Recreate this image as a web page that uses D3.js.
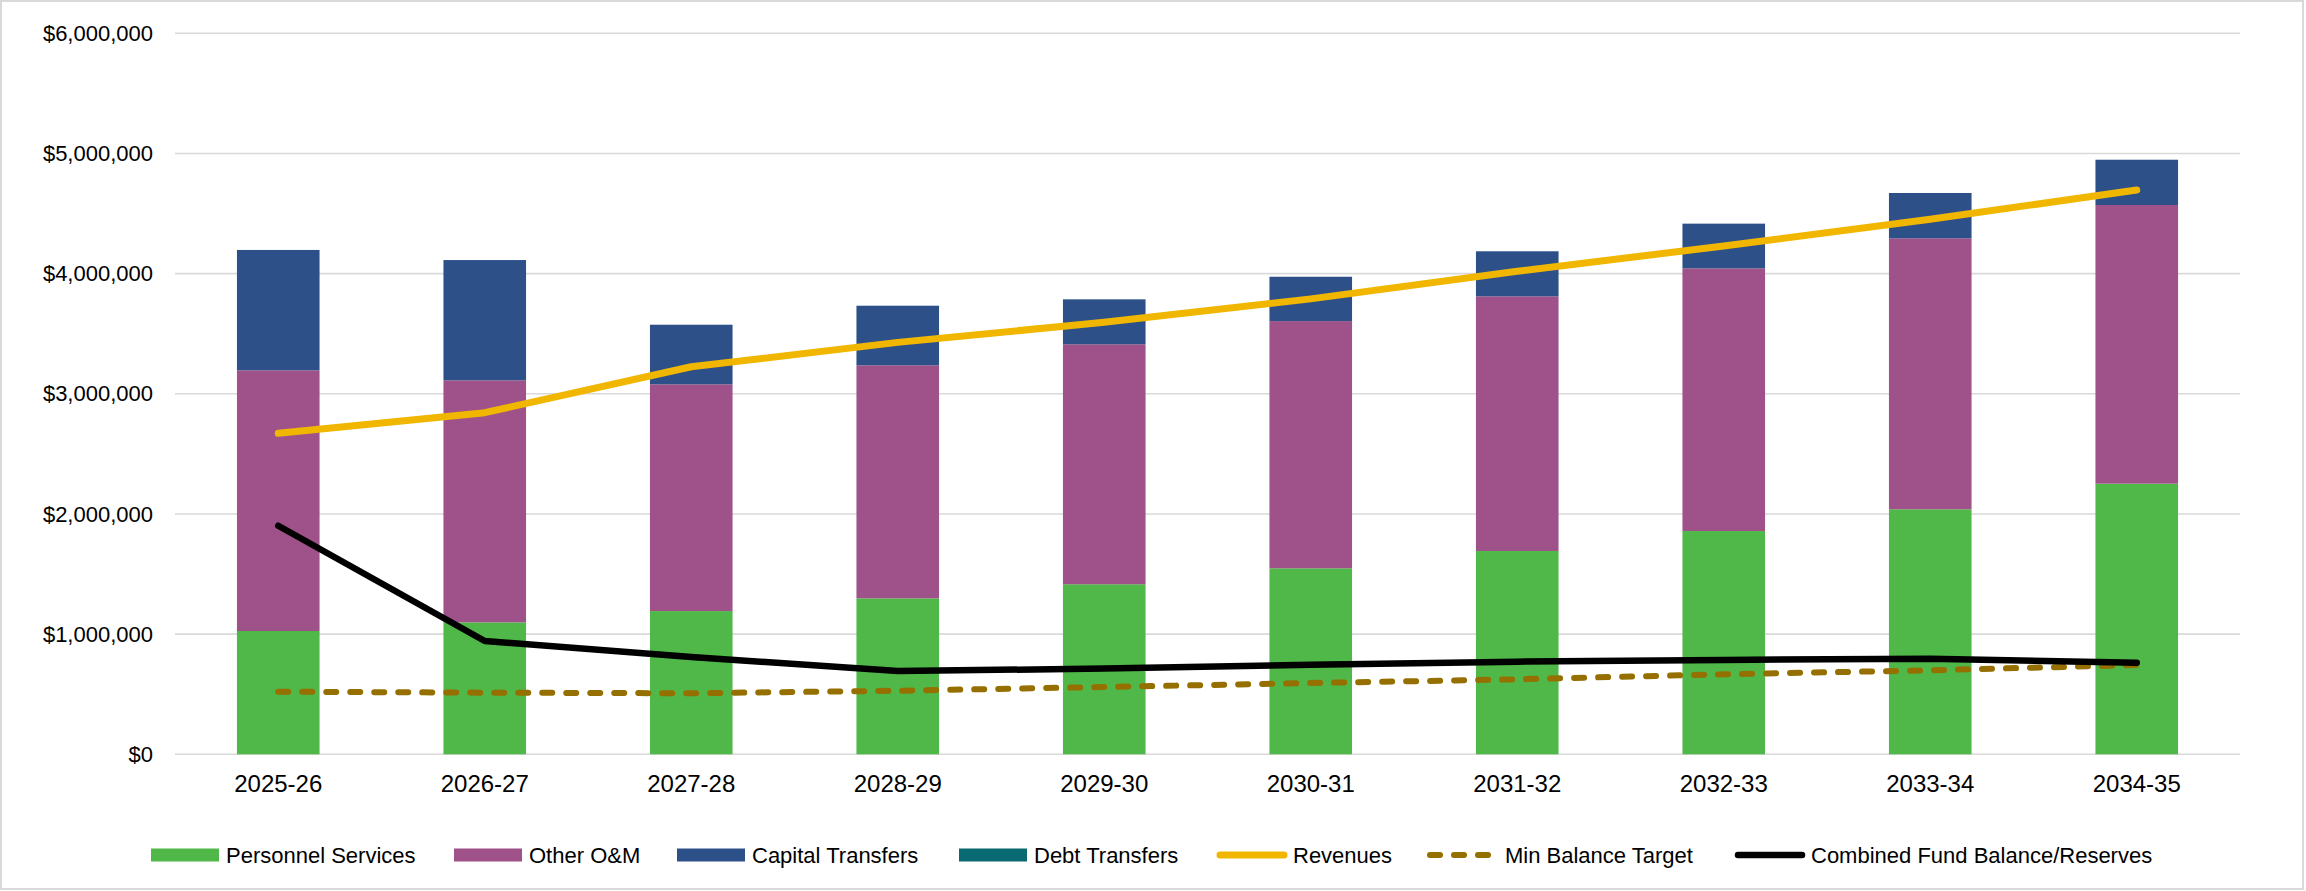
<!DOCTYPE html>
<html>
<head>
<meta charset="utf-8">
<script src="https://cdn.jsdelivr.net/npm/d3@7"></script>
<style>
  html, body { margin: 0; padding: 0; background: #fff; }
  svg { display: block; font-family: "Liberation Sans", Arial, sans-serif; }
</style>
</head>
<body>
<svg id="chart" width="2306" height="891"></svg>
<script>
// Fiscal years on the category axis
const years = ["2025-26", "2026-27", "2027-28", "2028-29", "2029-30",
               "2030-31", "2031-32", "2032-33", "2033-34", "2034-35"];

// Expenditure components (stacked bars)
const personnelServices = [1026000, 1098000, 1192000, 1298000, 1415000, 1548000, 1692000, 1858000, 2039000, 2252000];
const otherOM           = [2169000, 2014000, 1887000, 1939000, 1997000, 2057000, 2119000, 2186000, 2255000, 2319000];
const capitalTransfers  = [1002000, 1001000,  496000,  496000,  374000,  369000,  375000,  372000,  377000,  377000];
const debtTransfers     = [0, 0, 0, 0, 0, 0, 0, 0, 0, 0];

// Line series
const revenues          = [2671000, 2843000, 3225000, 3428000, 3595000, 3790000, 4020000, 4230000, 4452000, 4696000];
const minBalanceTarget  = [521000, 513000, 508000, 529000, 560000, 593000, 624000, 666000, 699000, 743000];
const combinedBalance   = [1902000, 943000, 810000, 693000, 713000, 746000, 771000, 785000, 796000, 762000];

// Value axis ticks
const yTicks = [0, 1000000, 2000000, 3000000, 4000000, 5000000, 6000000];

const barSeries = [
  { key: "personnel", name: "Personnel Services", values: personnelServices, color: "#4FB848" },
  { key: "otherom",   name: "Other O&M",          values: otherOM,           color: "#9F5189" },
  { key: "capital",   name: "Capital Transfers",  values: capitalTransfers,  color: "#2D5089" },
  { key: "debt",      name: "Debt Transfers",     values: debtTransfers,     color: "#0A6A72" }
];
const lineSeries = [
  { name: "Revenues",                         values: revenues,         color: "#F1B700", width: 7,   dash: null },
  { name: "Min Balance Target",               values: minBalanceTarget, color: "#957000", width: 6,   dash: "10,14" },
  { name: "Combined Fund Balance/Reserves",   values: combinedBalance,  color: "#000000", width: 6.5, dash: null }
];

const svg = d3.select("#chart");
const W = 2306, H = 891;
const plot = { left: 175, right: 2240, top: 33.3, bottom: 754.3 };

// Chart frame
svg.append("rect")
  .attr("x", 1).attr("y", 1).attr("width", W - 4).attr("height", H - 3)
  .attr("fill", "#fff").attr("stroke", "#d9d9d9").attr("stroke-width", 2);

const x = d3.scaleBand().domain(years)
  .range([plot.left, plot.right])
  .paddingInner(0.6).paddingOuter(0.3);

const y = d3.scaleLinear().domain([0, 6000000]).range([plot.bottom, plot.top]);

// Horizontal gridlines
svg.append("g").selectAll("line").data(yTicks).join("line")
  .attr("x1", plot.left).attr("x2", plot.right)
  .attr("y1", d => y(d)).attr("y2", d => y(d))
  .attr("stroke", "#d9d9d9").attr("stroke-width", 1.6);

// Y axis labels
const fmt = d => "$" + d3.format(",")(d);
const yAxis = d3.axisLeft(y).tickValues(yTicks).tickFormat(fmt).tickSize(0).tickPadding(0);
const yg = svg.append("g").attr("transform", `translate(${plot.left - 22},0)`).call(yAxis);
yg.select(".domain").remove();
yg.selectAll("text").attr("font-size", 22).attr("fill", "#000")
  .attr("font-family", "'Liberation Sans', Arial, sans-serif");

// X axis labels
const xAxis = d3.axisBottom(x).tickSize(0).tickPadding(0);
const xg = svg.append("g").attr("transform", `translate(0,${plot.bottom + 21})`).call(xAxis);
xg.select(".domain").remove();
xg.selectAll("text").attr("font-size", 24).attr("fill", "#000")
  .attr("font-family", "'Liberation Sans', Arial, sans-serif");

// Stacked bars
const rows = years.map((yr, i) => {
  const r = { year: yr };
  barSeries.forEach(s => { r[s.key] = s.values[i]; });
  return r;
});
const stack = d3.stack().keys(barSeries.map(s => s.key));
const layers = stack(rows);

svg.append("g").selectAll("g").data(layers).join("g")
  .attr("fill", (d, i) => barSeries[i].color)
  .selectAll("rect").data(d => d).join("rect")
  .attr("x", d => x(d.data.year))
  .attr("width", x.bandwidth())
  .attr("y", d => y(d[1]))
  .attr("height", d => Math.max(0, y(d[0]) - y(d[1])));

// Lines
const cx = yr => x(yr) + x.bandwidth() / 2;
lineSeries.forEach(s => {
  const line = d3.line().x((d, i) => cx(years[i])).y(d => y(d));
  svg.append("path")
    .datum(s.values)
    .attr("d", line)
    .attr("fill", "none")
    .attr("stroke", s.color)
    .attr("stroke-width", s.width)
    .attr("stroke-linecap", "round")
    .attr("stroke-linejoin", "round")
    .attr("stroke-dasharray", s.dash);
});

// Legend: one entry per series, laid out left to right along the bottom
const legend = svg.append("g").attr("font-size", 22).attr("fill", "#000");
const legendY = 855;
const legendStarts = [151, 454, 677, 959, 1216, 1426, 1734];
const items = [
  ...barSeries.map(s => ({ type: "rect", name: s.name, color: s.color })),
  ...lineSeries.map(s => ({ type: "line", name: s.name, color: s.color, width: s.width, dash: s.dash }))
];
items.forEach((it, i) => {
  const lx = legendStarts[i];
  const g = legend.append("g");
  let tx;
  if (it.type === "rect") {
    g.append("rect").attr("x", lx).attr("y", legendY - 6.5).attr("width", 68).attr("height", 13)
      .attr("fill", it.color);
    tx = lx + 75;
  } else {
    g.append("line").attr("x1", lx + 4).attr("x2", lx + 68)
      .attr("y1", legendY).attr("y2", legendY)
      .attr("stroke", it.color).attr("stroke-width", it.width)
      .attr("stroke-linecap", "round")
      .attr("stroke-dasharray", it.dash);
    tx = it.dash ? lx + 79 : lx + 77;
  }
  g.append("text").attr("x", tx).attr("y", legendY).attr("dy", "0.35em").text(it.name);
});
</script>
</body>
</html>
